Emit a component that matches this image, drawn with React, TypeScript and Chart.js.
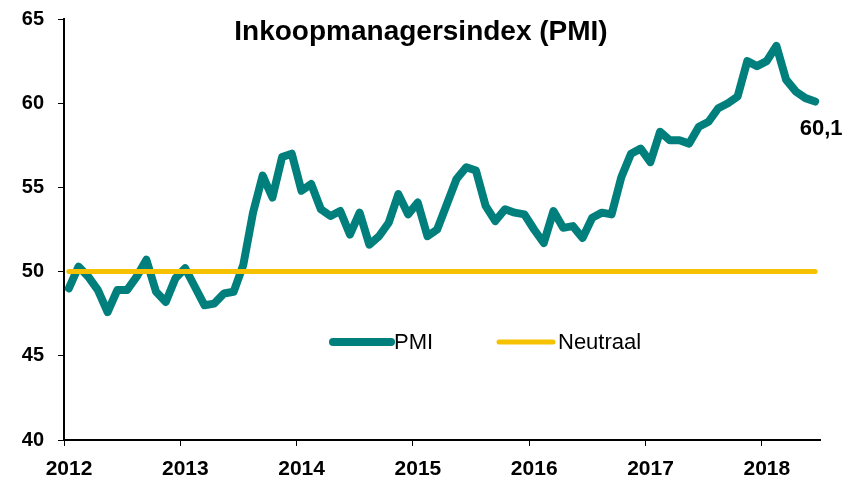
import React, { useEffect, useRef } from 'react';
import { Chart, registerables } from 'chart.js';

Chart.register(...registerables);

// Monthly PMI, Jan 2012 – Jun 2018
const pmiValues = [
  49.0, 50.3, 49.7, 48.9, 47.6, 48.9, 48.9, 49.7, 50.7, 48.8, 48.2, 49.6,
  50.2, 49.1, 48.0, 48.1, 48.7, 48.8, 50.4, 53.5, 55.7, 54.4, 56.8, 57.0,
  54.8, 55.2, 53.7, 53.3, 53.6, 52.2, 53.5, 51.6, 52.1, 52.9, 54.6, 53.4,
  54.1, 52.1, 52.5, 54.0, 55.5, 56.2, 56.0, 53.9, 53.0, 53.7, 53.5, 53.4,
  52.5, 51.7, 53.6, 52.6, 52.7, 52.0, 53.2, 53.5, 53.4, 55.6, 57.0, 57.3,
  56.5, 58.3, 57.8, 57.8, 57.6, 58.6, 58.9, 59.7, 60.0, 60.4, 62.5, 62.2,
  62.5, 63.4, 61.4, 60.7, 60.3, 60.1,
];
const yearLabels = ['2012', '2013', '2014', '2015', '2016', '2017', '2018'];
const yearStartIndex = [0, 12, 24, 36, 48, 60, 72];
const neutralLevel = 50;
const seriesNames = ['PMI', 'Neutraal'];
const chartTitle = 'Inkoopmanagersindex (PMI)';

const FONT = "'Liberation Sans', Arial, Helvetica, sans-serif";
const TEAL = '#007F7C';
const YELLOW = '#F5C100';

const overlayPlugin = {
  id: 'overlay',
  afterDraw(chart: any) {
    const ctx = chart.ctx;
    ctx.save();
    // Title
    ctx.fillStyle = '#000';
    ctx.font = `bold 28px ${FONT}`;
    ctx.textAlign = 'center';
    ctx.textBaseline = 'alphabetic';
    ctx.fillText(chartTitle, 421, 40);

    // Legend
    const ds = chart.data.datasets;
    const items = [
      { x1: 333, x2: 391, tx: 394, w: 8 },
      { x1: 499, x2: 553, tx: 558, w: 5 },
    ];
    items.forEach((it, i) => {
      ctx.strokeStyle = ds[i].borderColor;
      ctx.lineWidth = it.w;
      ctx.lineCap = 'round';
      ctx.beginPath();
      ctx.moveTo(it.x1, 342);
      ctx.lineTo(it.x2, 342);
      ctx.stroke();
      ctx.fillStyle = '#000';
      ctx.font = `22px ${FONT}`;
      ctx.textAlign = 'left';
      ctx.textBaseline = 'middle';
      ctx.fillText(seriesNames[i], it.tx, 343);
    });

    // Last value label
    const meta = chart.getDatasetMeta(0);
    const last = meta.data[meta.data.length - 1];
    const v = pmiValues[pmiValues.length - 1];
    ctx.font = `bold 22px ${FONT}`;
    ctx.textAlign = 'center';
    ctx.textBaseline = 'middle';
    ctx.fillStyle = '#000';
    ctx.fillText(v.toFixed(1).replace('.', ','), last.x + 6, last.y + 27);
    ctx.restore();
  },
};

export default function App() {
  const ref = useRef<HTMLCanvasElement | null>(null);

  useEffect(() => {
    document.body.style.margin = '0';
    const canvas = ref.current;
    if (!canvas) return;
    const chart = new Chart(canvas, {
      type: 'line',
      data: {
        datasets: [
          {
            label: seriesNames[0],
            data: pmiValues.map((y, i) => ({ x: i, y })),
            borderColor: TEAL,
            backgroundColor: TEAL,
            borderWidth: 8,
            borderCapStyle: 'round',
            borderJoinStyle: 'round',
            pointRadius: 0,
            tension: 0,
            order: 2,
          },
          {
            label: seriesNames[1],
            data: [
              { x: 0, y: neutralLevel },
              { x: pmiValues.length - 1, y: neutralLevel },
            ],
            borderColor: YELLOW,
            backgroundColor: YELLOW,
            borderWidth: 5,
            borderCapStyle: 'round',
            pointRadius: 0,
            tension: 0,
            order: 1,
          },
        ],
      },
      options: {
        animation: false,
        responsive: false,
        devicePixelRatio: 1,
        layout: { padding: { top: 19, right: 40, left: 0, bottom: 0 } },
        plugins: {
          legend: { display: false },
          tooltip: { enabled: false },
          title: { display: false },
        },
        scales: {
          x: {
            type: 'linear',
            min: -0.5,
            max: pmiValues.length - 0.5,
            afterBuildTicks: (scale: any) => {
              scale.ticks = yearStartIndex.map((i) => ({ value: i - 0.5 }));
            },
            afterFit: (scale: any) => {
              scale.height = 39;
              scale.paddingLeft = 0;
              scale.paddingRight = 0;
            },
            ticks: {
              autoSkip: false,
              maxRotation: 0,
              labelOffset: 5,
              padding: 11,
              color: '#000',
              font: { family: FONT, size: 21, weight: 'bold' },
              callback: (_v: any, index: number) => yearLabels[index],
            },
            grid: {
              display: true,
              drawOnChartArea: false,
              drawTicks: true,
              tickLength: 6,
              color: '#000',
              lineWidth: 1,
            },
            border: { display: true, color: '#000', width: 2 },
          },
          y: {
            type: 'linear',
            min: 40,
            max: 65,
            afterFit: (scale: any) => {
              scale.width = 64;
              scale.paddingTop = 0;
              scale.paddingBottom = 0;
            },
            ticks: {
              stepSize: 5,
              padding: 14,
              color: '#000',
              font: { family: FONT, size: 20, weight: 'bold' },
            },
            grid: {
              display: true,
              drawOnChartArea: false,
              drawTicks: true,
              tickLength: 6,
              color: '#000',
              lineWidth: 1,
            },
            border: { display: true, color: '#000', width: 2 },
          },
        },
      },
      plugins: [overlayPlugin],
    } as any);
    return () => chart.destroy();
  }, []);

  return (
    <div style={{ width: 860, height: 479 }}>
      <canvas ref={ref} width={860} height={479} style={{ display: 'block' }} />
    </div>
  );
}
